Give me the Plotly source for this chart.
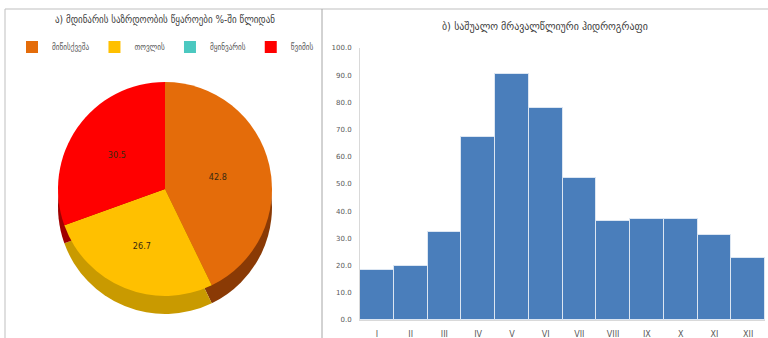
import plotly.graph_objects as go

# ---- data ----
pie_labels = ["მიწისქვეშა", "თოვლის", "მყინვარის", "წვიმის"]
pie_values = [42.8, 26.7, 0.0, 30.5]
pie_colors = ["#E46C0A", "#FFC000", "#4BC8C0", "#FF0000"]
pie_side_colors = ["#8A3A05", "#C99A00", "#2F8F8A", "#A00000"]

months = ["I", "II", "III", "IV", "V", "VI", "VII", "VIII", "IX", "X", "XI", "XII"]
flow = [18.4, 19.9, 32.4, 67.4, 90.4, 77.8, 52.1, 36.3, 37.3, 37.2, 31.3, 22.7]

title_a = "ა) მდინარის საზრდოობის წყაროები %-ში წლიდან"
title_b = "ბ) საშუალო მრავალწლიური ჰიდროგრაფი"

W, H = 768, 338
FONT = "DejaVu Sans"
CFONT = "DejaVu Sans Condensed, DejaVu Sans"

def py(y):  # pixel row -> paper fraction
    return (H - y) / H

def px(x):
    return x / W

fig = go.Figure()

pie_text = ["" if v == 0 else f"{v:.1f}" for v in pie_values]

# side (depth) of the pie, drawn first
fig.add_trace(go.Pie(
    labels=[l + " " for l in pie_labels], values=pie_values, sort=False,
    direction="clockwise", rotation=0,
    marker=dict(colors=pie_side_colors, line=dict(width=0)),
    textinfo="none", hoverinfo="skip", showlegend=False,
    domain=dict(x=[px(58), px(272)], y=[py(314), py(100)]),
))
# top face
fig.add_trace(go.Pie(
    labels=pie_labels, values=pie_values, sort=False,
    direction="clockwise", rotation=0,
    marker=dict(colors=pie_colors, line=dict(width=0)),
    text=pie_text, textinfo="text", textposition="inside",
    insidetextorientation="horizontal",
    textfont=dict(size=9, color="#3a2a10", family=CFONT),
    domain=dict(x=[px(58), px(272)], y=[py(296), py(82)]),
))

fig.add_trace(go.Bar(
    x=months, y=flow, marker=dict(color="#4A7EBB", line=dict(color="#DCE6F2", width=1)),
    xaxis="x", yaxis="y", showlegend=False,
))

fig.update_layout(
    width=W, height=H, margin=dict(l=0, r=0, t=0, b=0, autoexpand=False),
    paper_bgcolor="white", plot_bgcolor="white",
    font=dict(family=FONT, color="#595959"),
    bargap=0,
    xaxis=dict(domain=[px(360), px(765)], showgrid=False, ticks="",
               showline=True, linecolor="#D9D9D9", linewidth=1, ticklabelstandoff=6,
               tickfont=dict(size=8, color="#595959"), fixedrange=True),
    yaxis=dict(domain=[py(320), py(48)], range=[0, 100.01], dtick=10, tickformat=".1f",
               showgrid=False, zeroline=False, showline=True, linecolor="#D9D9D9",
               linewidth=1, ticks="", ticklabelstandoff=6,
               tickfont=dict(size=7, color="#595959")),
    legend=dict(orientation="h", x=px(12), xanchor="left", y=py(47), yanchor="middle",
                font=dict(size=8, color="#595959", family=CFONT),
                bgcolor="rgba(0,0,0,0)",
                itemwidth=30, traceorder="normal"),
    annotations=[
        dict(text=title_a, x=px(165), y=py(20), xref="paper", yref="paper",
             xanchor="center", yanchor="middle",
             showarrow=False, font=dict(size=10, color="#404040", family=CFONT)),
        dict(text=title_b, x=px(545), y=py(27), xref="paper", yref="paper",
             xanchor="center", yanchor="middle",
             showarrow=False, font=dict(size=11, color="#404040", family=CFONT)),
    ],
    shapes=[
        dict(type="line", xref="paper", yref="paper", x0=px(5), x1=1, y0=py(9), y1=py(9),
             line=dict(color="#BFBFBF", width=1)),
        dict(type="line", xref="paper", yref="paper", x0=px(5), x1=px(5), y0=0, y1=py(9),
             line=dict(color="#BFBFBF", width=1)),
        dict(type="line", xref="paper", yref="paper", x0=px(322), x1=px(322), y0=0, y1=py(9),
             line=dict(color="#A6A6A6", width=1)),
    ],
)

fig.write_html("out.html")
